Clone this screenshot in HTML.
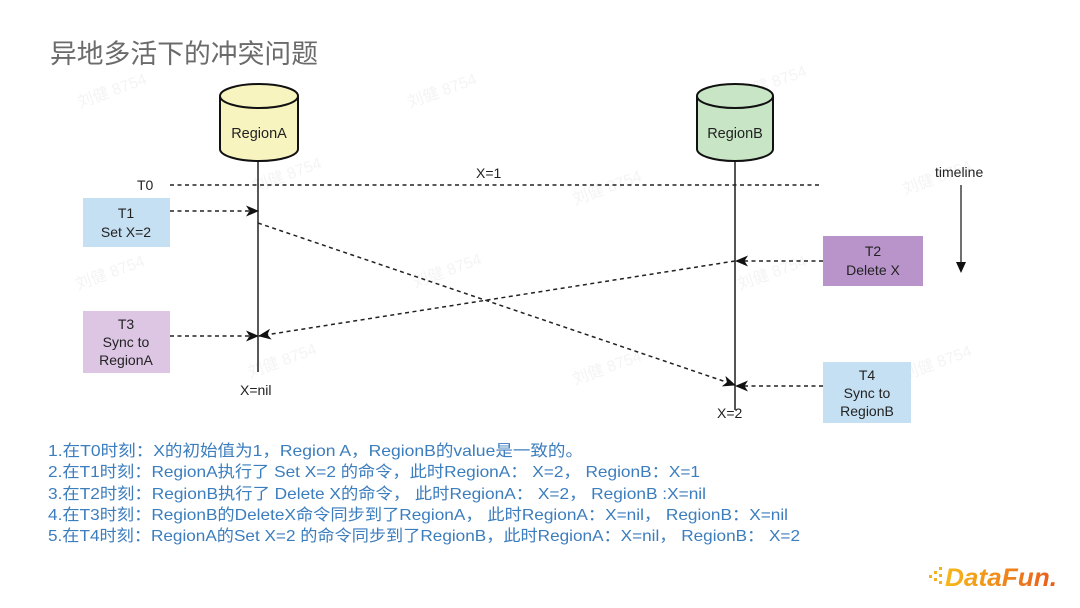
<!DOCTYPE html>
<html>
<head>
<meta charset="utf-8">
<style>
html,body{margin:0;padding:0;background:#fff;}
body{width:1080px;height:608px;overflow:hidden;position:relative;}
svg{position:absolute;left:0;top:0;}
</style>
</head>
<body>
<svg width="1080" height="608" viewBox="0 0 1080 608" xmlns="http://www.w3.org/2000/svg">
<defs>
<marker id="ah" viewBox="0 0 13 11" refX="12" refY="5.5" markerWidth="13" markerHeight="11" markerUnits="userSpaceOnUse" orient="auto">
<path d="M0,0 L13,5.5 L0,11 L3.5,5.5 Z" fill="#111"/>
</marker>
<linearGradient id="lg" x1="0" y1="0" x2="1" y2="0">
<stop offset="0" stop-color="#f6b91a"/>
<stop offset="1" stop-color="#e95a1c"/>
</linearGradient>
</defs>

<!-- watermarks -->
<g font-family="Liberation Sans,Noto Sans CJK SC,sans-serif" font-size="16" fill="#f4f4f4">
<text x="80" y="108" transform="rotate(-20 80 108)">刘健 8754</text>
<text x="410" y="108" transform="rotate(-20 410 108)">刘健 8754</text>
<text x="740" y="100" transform="rotate(-20 740 100)">刘健 8754</text>
<text x="255" y="192" transform="rotate(-20 255 192)">刘健 8754</text>
<text x="575" y="205" transform="rotate(-20 575 205)">刘健 8754</text>
<text x="905" y="195" transform="rotate(-20 905 195)">刘健 8754</text>
<text x="78" y="290" transform="rotate(-20 78 290)">刘健 8754</text>
<text x="415" y="288" transform="rotate(-20 415 288)">刘健 8754</text>
<text x="740" y="290" transform="rotate(-20 740 290)">刘健 8754</text>
<text x="250" y="378" transform="rotate(-20 250 378)">刘健 8754</text>
<text x="575" y="385" transform="rotate(-20 575 385)">刘健 8754</text>
<text x="905" y="380" transform="rotate(-20 905 380)">刘健 8754</text>
</g>

<!-- title -->
<text x="50" y="63" font-family="Noto Sans CJK SC,sans-serif" font-size="26.8" fill="#6b6b6b" textLength="268" lengthAdjust="spacingAndGlyphs">异地多活下的冲突问题</text>

<!-- lifelines -->
<line x1="258" y1="160" x2="258" y2="372" stroke="#222" stroke-width="1.5"/>
<line x1="735" y1="160" x2="735" y2="410" stroke="#555" stroke-width="2"/>

<!-- cylinder A -->
<path d="M220,96 A39,12 0 0 1 298,96 V149 A39,12 0 0 1 220,149 Z" fill="#f8f4c0" stroke="#111" stroke-width="2"/>
<path d="M220,96 A39,12 0 0 0 298,96" fill="none" stroke="#111" stroke-width="2"/>
<text x="259" y="138" text-anchor="middle" font-family="Liberation Sans,sans-serif" font-size="14.5" fill="#222">RegionA</text>

<!-- cylinder B -->
<path d="M697,96 A38,12 0 0 1 773,96 V149 A38,12 0 0 1 697,149 Z" fill="#c8e6c6" stroke="#111" stroke-width="2"/>
<path d="M697,96 A38,12 0 0 0 773,96" fill="none" stroke="#111" stroke-width="2"/>
<text x="735" y="138" text-anchor="middle" font-family="Liberation Sans,sans-serif" font-size="14.5" fill="#222">RegionB</text>

<!-- T0 line -->
<text x="137" y="190" font-family="Liberation Sans,sans-serif" font-size="14" fill="#222">T0</text>
<line x1="170" y1="185" x2="822" y2="185" stroke="#222" stroke-width="1.4" stroke-dasharray="4,3.5"/>
<text x="476" y="178" font-family="Liberation Sans,sans-serif" font-size="14" fill="#222">X=1</text>

<!-- timeline -->
<text x="935" y="177" font-family="Liberation Sans,sans-serif" font-size="14" fill="#222">timeline</text>
<line x1="961" y1="185" x2="961" y2="262" stroke="#222" stroke-width="1.3"/>
<path d="M956,262 L966,262 L961,273 Z" fill="#111"/>

<!-- boxes -->
<rect x="83" y="198" width="87" height="49" fill="#c6e0f3"/>
<text font-family="Liberation Sans,sans-serif" font-size="14" fill="#222" text-anchor="middle"><tspan x="126" y="218">T1</tspan><tspan x="126" y="237">Set X=2</tspan></text>

<rect x="83" y="311" width="87" height="62" fill="#dcc6e4"/>
<text font-family="Liberation Sans,sans-serif" font-size="14" fill="#222" text-anchor="middle"><tspan x="126" y="329">T3</tspan><tspan x="126" y="347">Sync to</tspan><tspan x="126" y="365">RegionA</tspan></text>

<rect x="823" y="236" width="100" height="50" fill="#b994cb"/>
<text font-family="Liberation Sans,sans-serif" font-size="14" fill="#222" text-anchor="middle"><tspan x="873" y="256">T2</tspan><tspan x="873" y="275">Delete X</tspan></text>

<rect x="823" y="362" width="88" height="61" fill="#c6e0f3"/>
<text font-family="Liberation Sans,sans-serif" font-size="14" fill="#222" text-anchor="middle"><tspan x="867" y="380">T4</tspan><tspan x="867" y="398">Sync to</tspan><tspan x="867" y="416">RegionB</tspan></text>

<!-- arrows -->
<g stroke="#222" stroke-width="1.5" stroke-dasharray="4,3.5" fill="none">
<line x1="170" y1="211" x2="258" y2="211" marker-end="url(#ah)"/>
<line x1="170" y1="336" x2="258" y2="336" marker-end="url(#ah)"/>
<line x1="258" y1="223" x2="735" y2="385" marker-end="url(#ah)"/>
<line x1="735" y1="261" x2="259" y2="336" marker-end="url(#ah)"/>
<line x1="823" y1="261" x2="736" y2="261" marker-end="url(#ah)"/>
<line x1="823" y1="386" x2="736" y2="386" marker-end="url(#ah)"/>
</g>

<text x="240" y="395" font-family="Liberation Sans,sans-serif" font-size="14" fill="#222">X=nil</text>
<text x="717" y="418" font-family="Liberation Sans,sans-serif" font-size="14" fill="#222">X=2</text>

<!-- bottom text -->
<g font-family="Liberation Sans,Noto Sans CJK SC,sans-serif" font-size="16" fill="#3b7dbd">
<text x="48" y="456" textLength="535" lengthAdjust="spacingAndGlyphs">1.在T0时刻：X的初始值为1，Region A，RegionB的value是一致的。</text>
<text x="48" y="477" textLength="652" lengthAdjust="spacingAndGlyphs">2.在T1时刻：RegionA执行了 Set X=2 的命令，此时RegionA： X=2， RegionB：X=1</text>
<text x="48" y="499" textLength="658" lengthAdjust="spacingAndGlyphs">3.在T2时刻：RegionB执行了 Delete X的命令， 此时RegionA： X=2， RegionB :X=nil</text>
<text x="48" y="520" textLength="740" lengthAdjust="spacingAndGlyphs">4.在T3时刻：RegionB的DeleteX命令同步到了RegionA， 此时RegionA：X=nil， RegionB：X=nil</text>
<text x="48" y="541" textLength="752" lengthAdjust="spacingAndGlyphs">5.在T4时刻：RegionA的Set X=2 的命令同步到了RegionB，此时RegionA：X=nil， RegionB： X=2</text>
</g>

<!-- DataFun logo -->
<g fill="#f3b21c">
<rect x="929" y="575" width="3" height="3"/>
<rect x="934" y="571" width="3" height="3"/>
<rect x="934" y="578" width="3" height="3"/>
<rect x="939" y="567" width="3" height="3"/>
<rect x="939" y="574" width="3" height="3"/>
<rect x="939" y="581" width="3" height="3"/>
</g>
<text x="945" y="586" font-family="Liberation Sans,sans-serif" font-size="25" font-weight="bold" font-style="italic" fill="url(#lg)" textLength="112" lengthAdjust="spacingAndGlyphs">DataFun.</text>
</svg>
</body>
</html>
